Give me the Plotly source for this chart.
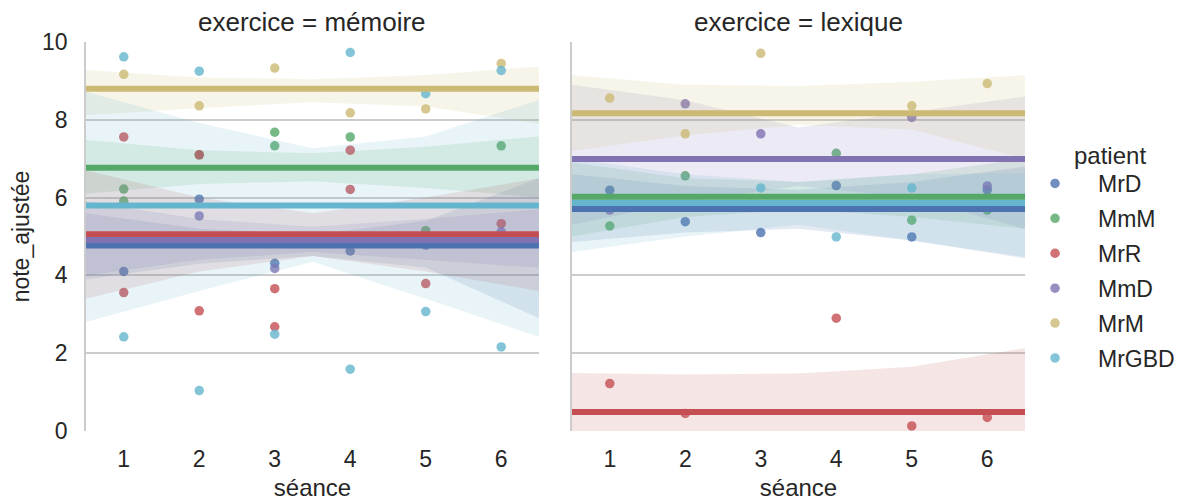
import plotly.graph_objects as go

# ---------------- data ----------------
patients = ["MrD", "MmM", "MrR", "MmD", "MrM", "MrGBD"]
colors = ["#4C72B0", "#55A868", "#C44E52", "#8172B2", "#CCB974", "#64B5CD"]
exercices = ["mémoire", "lexique"]
x_ticks = [1, 2, 3, 4, 5, 6]
y_ticks = [0, 2, 4, 6, 8, 10]

# mémoire observations (séance, note_ajustée)
mem_MrD_x = [1, 2, 3, 4, 5]
mem_MrD_y = [4.10, 5.96, 4.31, 4.63, 4.78]
mem_MmM_x = [1, 1, 2, 3, 3, 4, 5, 6]
mem_MmM_y = [6.22, 5.91, 7.10, 7.68, 7.33, 7.56, 5.15, 7.33]
mem_MrR_x = [1, 1, 2, 2, 3, 3, 4, 4, 5, 6]
mem_MrR_y = [7.56, 3.56, 7.10, 3.09, 3.66, 2.68, 7.22, 6.21, 3.79, 5.33]
mem_MmD_x = [2, 3, 6]
mem_MmD_y = [5.53, 4.18, 5.12]
mem_MrM_x = [1, 2, 3, 4, 5, 6]
mem_MrM_y = [9.17, 8.36, 9.33, 8.18, 8.28, 9.45]
mem_MrGBD_x = [1, 1, 2, 2, 3, 4, 4, 5, 5, 6, 6]
mem_MrGBD_y = [9.62, 2.42, 9.25, 1.04, 2.49, 9.73, 1.59, 8.67, 3.07, 9.27, 2.16]

# lexique observations
lex_MrD_x = [1, 2, 3, 4, 5, 6]
lex_MrD_y = [6.19, 5.38, 5.10, 6.31, 4.99, 6.20]
lex_MmM_x = [1, 2, 4, 5, 6]
lex_MmM_y = [5.27, 6.56, 7.14, 5.42, 5.68]
lex_MrR_x = [1, 2, 4, 5, 6]
lex_MrR_y = [1.22, 0.45, 2.90, 0.13, 0.35]
lex_MmD_x = [1, 2, 3, 5, 6]
lex_MmD_y = [5.68, 8.41, 7.64, 8.06, 6.30]
lex_MrM_x = [1, 2, 3, 5, 6]
lex_MrM_y = [8.56, 7.64, 9.71, 8.36, 8.93]
lex_MrGBD_x = [3, 4, 5]
lex_MrGBD_y = [6.25, 4.99, 6.25]

# fitted levels (regression lines)
fit_memoire = [4.77, 6.77, 5.06, 4.91, 8.80, 5.80]
fit_lexique = [5.71, 6.02, 0.49, 6.99, 8.17, 5.86]

# confidence bands sampled at these séance positions
band_x = [0.5, 2, 3.5, 5, 6.5]
mem_lo = [[3.9, 4.3, 4.5, 4.2, 2.9],
          [6.1, 6.35, 6.42, 6.25, 6.0],
          [3.4, 4.1, 4.5, 4.1, 3.6],
          [4.0, 4.4, 4.6, 4.4, 4.2],
          [8.12, 8.30, 8.45, 8.34, 7.9],
          [2.8, 3.6, 4.35, 3.4, 2.42]]
mem_hi = [[5.6, 5.2, 5.05, 5.4, 6.5],
          [7.48, 7.22, 7.14, 7.31, 7.57],
          [6.7, 6.0, 5.6, 6.0, 6.5],
          [5.9, 5.45, 5.25, 5.45, 5.7],
          [9.28, 9.09, 9.04, 9.15, 9.37],
          [8.72, 7.92, 7.27, 7.57, 8.51]]
lex_lo = [[4.86, 5.1, 5.2, 4.9, 4.44],
          [5.0, 5.5, 5.7, 5.5, 5.2],
          [-0.5, -0.45, -0.5, -0.65, -1.1],
          [5.3, 5.9, 6.3, 6.0, 5.2],
          [7.2, 7.6, 7.87, 7.75, 7.0],
          [4.6, 5.0, 5.3, 4.9, 4.47]]
lex_hi = [[6.6, 6.3, 6.2, 6.4, 6.8],
          [6.9, 6.5, 6.4, 6.6, 7.0],
          [1.49, 1.45, 1.48, 1.65, 2.13],
          [8.9, 8.5, 7.8, 8.2, 8.6],
          [9.15, 8.9, 8.87, 8.98, 9.15],
          [7.0, 6.6, 6.4, 6.6, 6.63]]

mem_obs = [(mem_MrD_x, mem_MrD_y), (mem_MmM_x, mem_MmM_y), (mem_MrR_x, mem_MrR_y),
           (mem_MmD_x, mem_MmD_y), (mem_MrM_x, mem_MrM_y), (mem_MrGBD_x, mem_MrGBD_y)]
lex_obs = [(lex_MrD_x, lex_MrD_y), (lex_MmM_x, lex_MmM_y), (lex_MrR_x, lex_MrR_y),
           (lex_MmD_x, lex_MmD_y), (lex_MrM_x, lex_MrM_y), (lex_MrGBD_x, lex_MrGBD_y)]

panels = [
    ("x", "y", mem_obs, fit_memoire, mem_lo, mem_hi),
    ("x2", "y2", lex_obs, fit_lexique, lex_lo, lex_hi),
]


def rgba(hexc, a):
    h = hexc.lstrip("#")
    return "rgba(%d,%d,%d,%s)" % (int(h[0:2], 16), int(h[2:4], 16), int(h[4:6], 16), a)


fig = go.Figure()
for pi, (xa, ya, obs, fits, lo, hi) in enumerate(panels):
    for i, p in enumerate(patients):
        ox, oy = obs[i]
        fig.add_trace(go.Scatter(
            x=ox, y=oy, mode="markers", xaxis=xa, yaxis=ya,
            marker=dict(size=9.5, color=rgba(colors[i], 0.8), line=dict(width=0)),
            name=p, legendgroup=p, showlegend=(pi == 0), hoverinfo="x+y+name"))
        fig.add_trace(go.Scatter(
            x=band_x + band_x[::-1], y=hi[i] + lo[i][::-1], mode="lines",
            xaxis=xa, yaxis=ya, fill="toself", fillcolor=rgba(colors[i], 0.15),
            line=dict(width=0), legendgroup=p, showlegend=False, hoverinfo="skip"))
    for i, p in enumerate(patients):
        fig.add_trace(go.Scatter(
            x=[band_x[0], band_x[-1]], y=[fits[i], fits[i]], mode="lines",
            xaxis=xa, yaxis=ya, line=dict(color=colors[i], width=6),
            legendgroup=p, showlegend=False, hoverinfo="skip"))

TXT = "#262626"
GRID = "#cccccc"
FONT = "Liberation Sans, Arial, sans-serif"

axis_common = dict(range=[0.5, 6.5], tickvals=x_ticks, showgrid=False, zeroline=False,
                   showline=False, ticks="", tickfont=dict(size=23, color=TXT),
                   ticklabelstandoff=12, automargin=False,
                   title=dict(text="séance", font=dict(size=24, color=TXT), standoff=10))
yaxis_common = dict(range=[0, 10], tickvals=y_ticks, showgrid=True, gridcolor=GRID,
                    gridwidth=1.6, zeroline=False, showline=True, linecolor=GRID,
                    linewidth=1.6, ticks="", automargin=False)

# page body has an 8px margin: figure is offset by (8, 8)
fig.update_layout(
    width=1175, height=493,
    margin=dict(l=78, r=158, t=34, b=70, autoexpand=False),
    paper_bgcolor="white", plot_bgcolor="white",
    font=dict(family=FONT, color=TXT),
    showlegend=True,
    xaxis=dict(domain=[0, 0.4824], anchor="y", **axis_common),
    xaxis2=dict(domain=[0.5176, 1], anchor="y2", **axis_common),
    yaxis=dict(anchor="x", showticklabels=True, tickfont=dict(size=23, color=TXT),
               ticklabelstandoff=12,
               title=dict(text="note_ajustée", font=dict(size=23, color=TXT), standoff=8),
               **yaxis_common),
    yaxis2=dict(anchor="x2", matches="y", showticklabels=False, **yaxis_common),
    legend=dict(x=0.9862, xanchor="left", y=0.6915, yanchor="top",
                font=dict(size=23, color=TXT), itemwidth=76,
                tracegroupgap=2, bgcolor="rgba(0,0,0,0)"),
    annotations=[
        dict(text="exercice = " + exercices[0], x=0.2412, y=1, xref="paper", yref="paper",
             xanchor="center", yanchor="bottom", yshift=3, showarrow=False,
             font=dict(size=26, color=TXT)),
        dict(text="exercice = " + exercices[1], x=0.7588, y=1, xref="paper", yref="paper",
             xanchor="center", yanchor="bottom", yshift=3, showarrow=False,
             font=dict(size=26, color=TXT)),
        dict(text="patient", x=1.091, y=0.7095, xref="paper", yref="paper",
             xanchor="center", yanchor="middle", showarrow=False,
             font=dict(size=24, color=TXT)),
    ],
)

fig.write_html("out.html")
